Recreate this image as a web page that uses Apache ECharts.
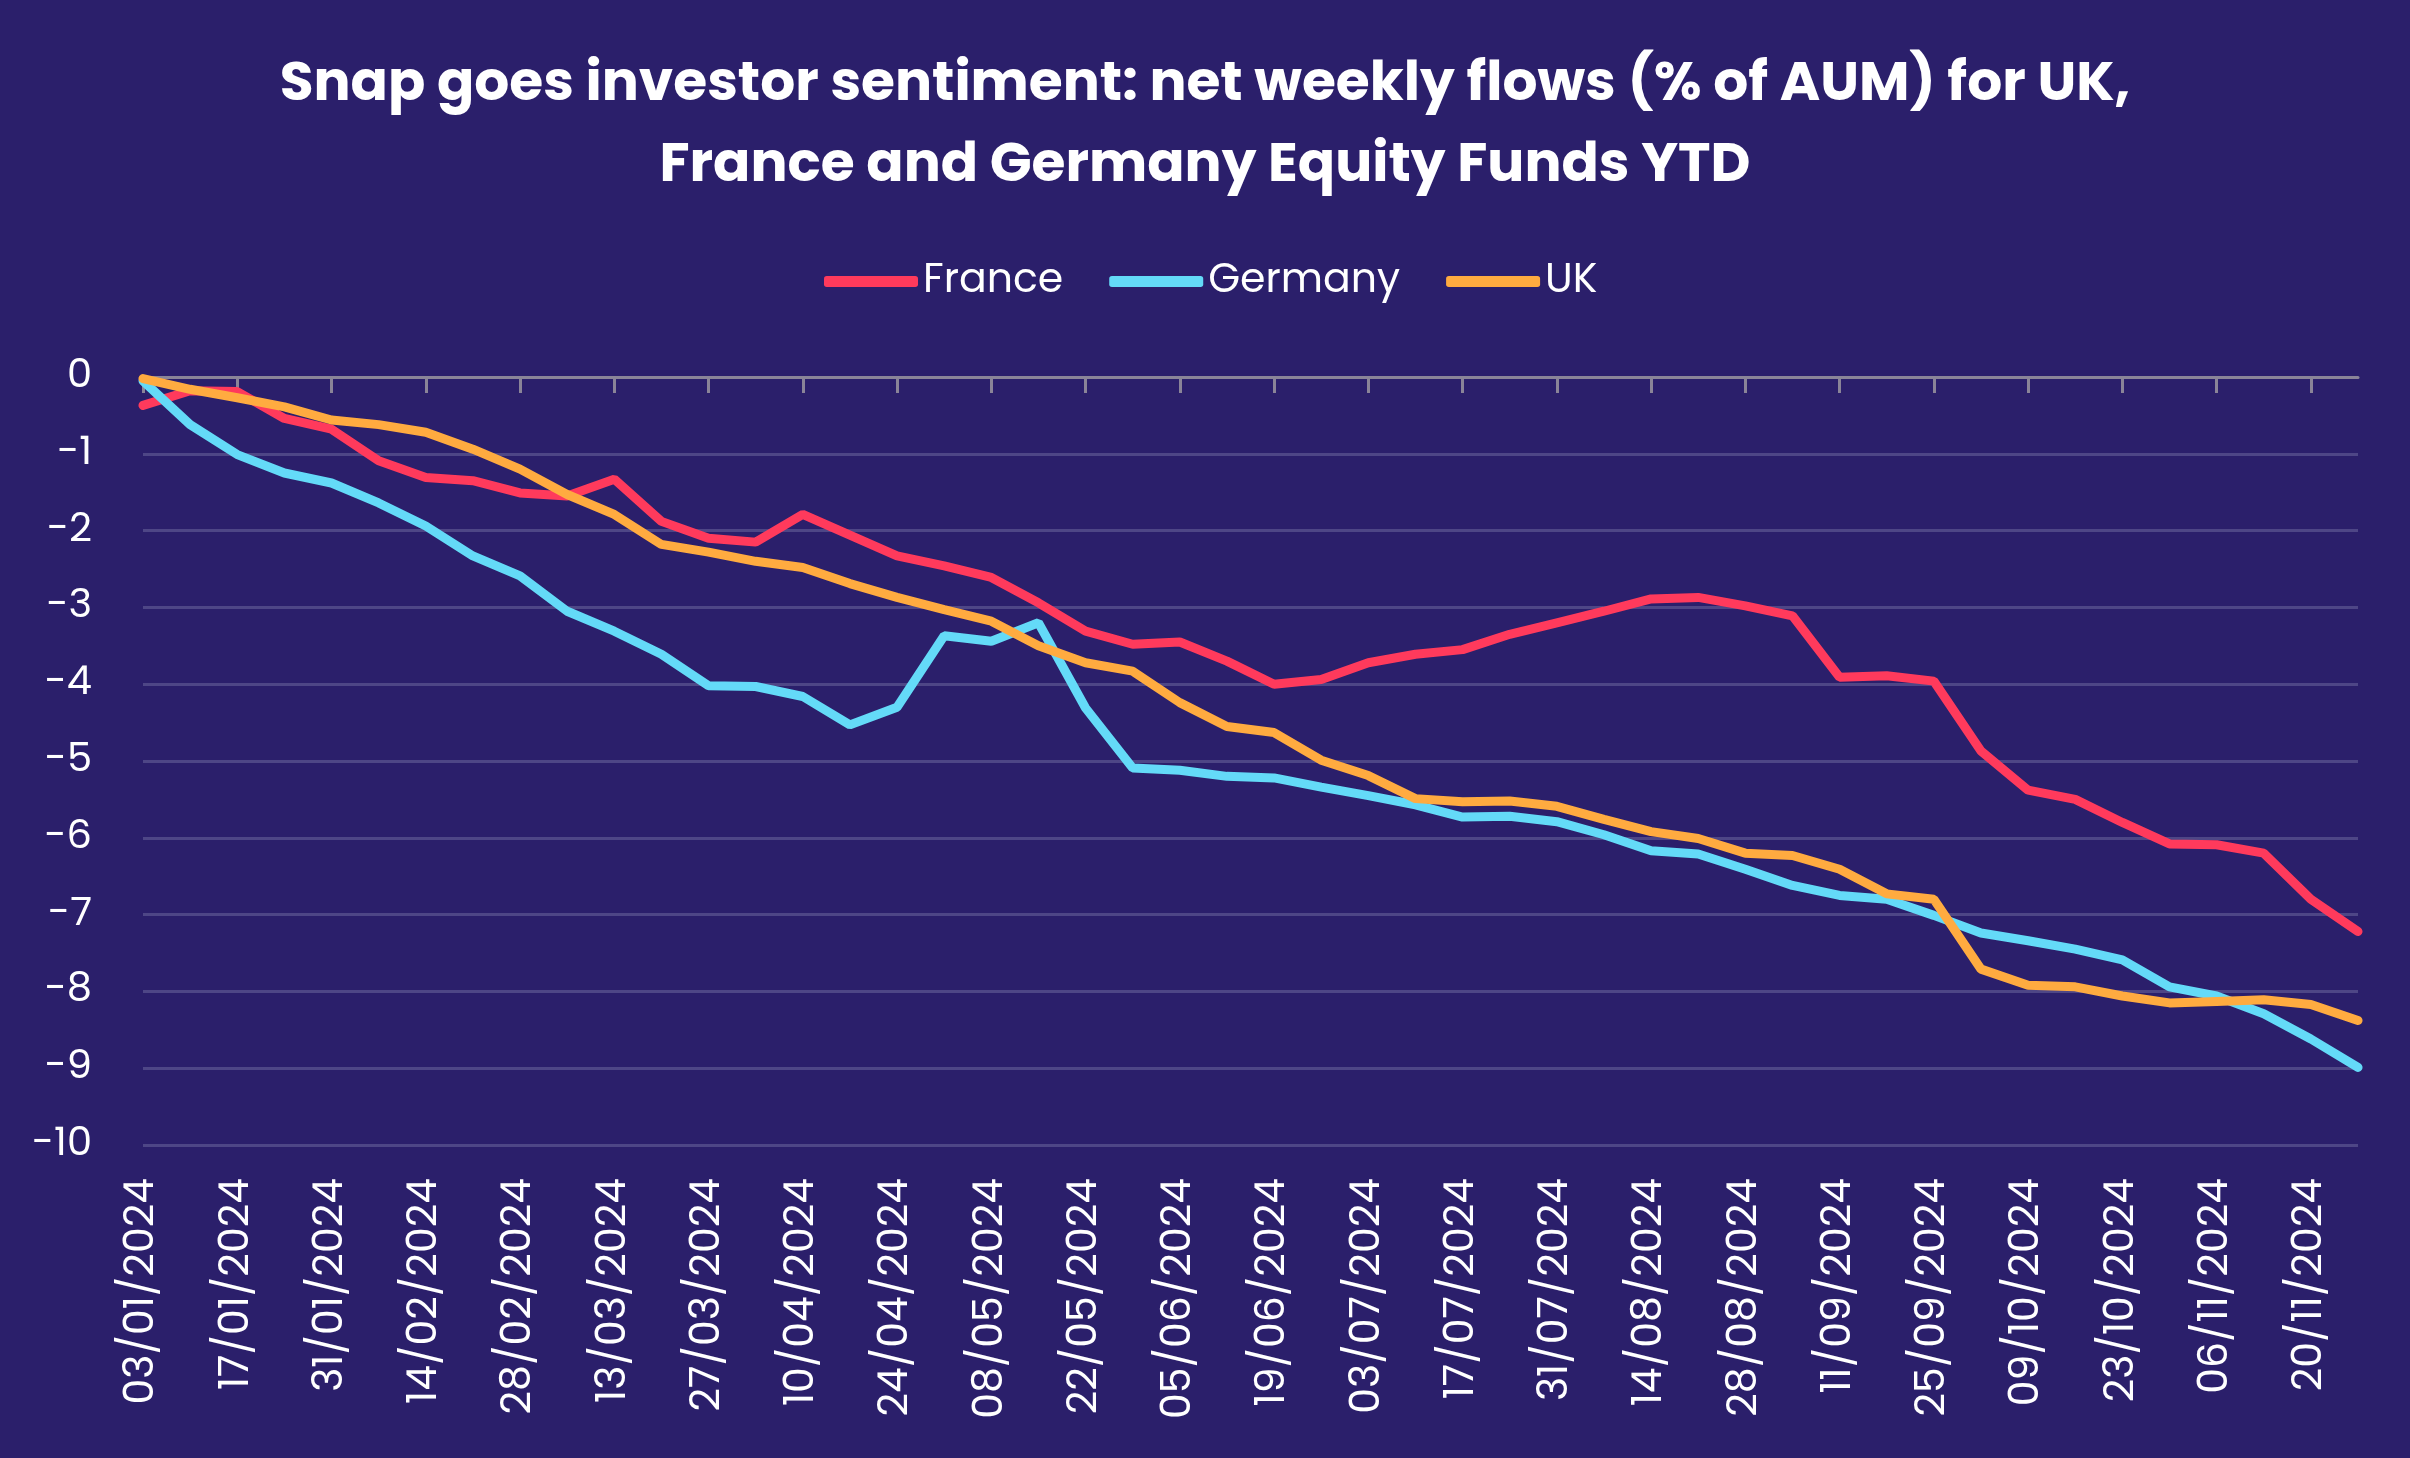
<!DOCTYPE html>
<html>
<head>
<meta charset="utf-8">
<script src="https://cdn.jsdelivr.net/npm/echarts@6/dist/echarts.min.js"></script>
<style>
html,body{margin:0;padding:0;background:#2B1F6B;}
#chart{width:2410px;height:1458px;}
</style>
</head>
<body>
<div id="chart"></div>
<script>
const dates = ['03/01/2024','10/01/2024','17/01/2024','24/01/2024','31/01/2024','07/02/2024','14/02/2024','21/02/2024','28/02/2024','06/03/2024','13/03/2024','20/03/2024','27/03/2024','03/04/2024','10/04/2024','17/04/2024','24/04/2024','01/05/2024','08/05/2024','15/05/2024','22/05/2024','29/05/2024','05/06/2024','12/06/2024','19/06/2024','26/06/2024','03/07/2024','10/07/2024','17/07/2024','24/07/2024','31/07/2024','07/08/2024','14/08/2024','21/08/2024','28/08/2024','04/09/2024','11/09/2024','18/09/2024','25/09/2024','02/10/2024','09/10/2024','16/10/2024','23/10/2024','30/10/2024','06/11/2024','13/11/2024','20/11/2024','27/11/2024'];

const france = [-0.37,-0.18,-0.19,-0.54,-0.68,-1.09,-1.31,-1.35,-1.51,-1.55,-1.33,-1.88,-2.10,-2.15,-1.79,-2.06,-2.33,-2.46,-2.61,-2.94,-3.31,-3.48,-3.45,-3.70,-4.00,-3.94,-3.72,-3.61,-3.55,-3.35,-3.20,-3.05,-2.89,-2.87,-2.98,-3.11,-3.91,-3.89,-3.96,-4.87,-5.38,-5.50,-5.80,-6.08,-6.09,-6.20,-6.80,-7.22];

const germany = [-0.05,-0.62,-1.01,-1.25,-1.38,-1.64,-1.94,-2.33,-2.59,-3.05,-3.31,-3.61,-4.02,-4.03,-4.16,-4.53,-4.30,-3.37,-3.44,-3.20,-4.31,-5.09,-5.12,-5.20,-5.22,-5.34,-5.45,-5.57,-5.73,-5.72,-5.79,-5.96,-6.17,-6.21,-6.41,-6.62,-6.75,-6.80,-7.01,-7.24,-7.34,-7.45,-7.59,-7.94,-8.06,-8.29,-8.62,-8.99];

const uk = [-0.02,-0.16,-0.27,-0.39,-0.56,-0.62,-0.72,-0.94,-1.20,-1.53,-1.79,-2.18,-2.28,-2.40,-2.48,-2.69,-2.87,-3.03,-3.18,-3.50,-3.72,-3.83,-4.24,-4.55,-4.63,-4.99,-5.19,-5.49,-5.53,-5.52,-5.59,-5.76,-5.92,-6.01,-6.20,-6.23,-6.41,-6.73,-6.80,-7.71,-7.92,-7.94,-8.06,-8.15,-8.13,-8.11,-8.17,-8.38];

const titleLines = ['Snap goes investor sentiment: net weekly flows (% of AUM) for UK,', 'France and Germany Equity Funds YTD'];
const seriesNames = ['France','Germany','UK'];
const seriesColors = ['#FF3A5C','#64DAF8','#FFAB40'];
const seriesData = [france, germany, uk];

const FONT = "Poppins, 'Open Sans', Lato, sans-serif";

const chart = echarts.init(document.getElementById('chart'), null, {renderer:'canvas'});
chart.setOption({
  backgroundColor: '#2B1F6B',
  animation: false,
  title: titleLines.map((t, i) => ({
    text: t,
    left: 'center',
    top: 40 + i * 81,
    textStyle: {
      color: '#FFFFFF',
      fontFamily: FONT,
      fontWeight: 'bold',
      fontSize: 55,
      lineHeight: 83
    }
  })),
  legend: {
    top: 256,
    left: 819,
    itemWidth: 94,
    itemHeight: 11,
    itemGap: 46,
    icon: 'roundRect',
    textStyle: { color: '#FFFFFF', fontFamily: FONT, fontSize: 41 },
    data: seriesNames
  },
  grid: { left: 143, right: 52, top: 377, bottom: 313, containLabel: false },
  xAxis: [
    {
      type: 'category',
      data: dates,
      boundaryGap: false,
      position: 'bottom',
      axisLine: { show: false, onZero: false },
      axisTick: { show: false },
      splitLine: { show: false },
      axisLabel: {
        interval: 1,
        rotate: 90,
        margin: 33,
        color: '#FFFFFF',
        fontFamily: FONT,
        fontSize: 41
      }
    },
    {
      type: 'category',
      data: dates,
      boundaryGap: false,
      position: 'top',
      axisLine: { show: true, onZero: false, lineStyle: { color: '#8A8498', width: 3 } },
      axisTick: { show: true, inside: true, interval: 1, length: 16, lineStyle: { color: '#8A8498', width: 3 } },
      axisLabel: { show: false },
      splitLine: { show: false }
    }
  ],
  yAxis: {
    type: 'value',
    min: -10,
    max: 0,
    interval: 1,
    axisLine: { show: false },
    axisTick: { show: false },
    axisLabel: { color: '#FFFFFF', fontFamily: FONT, fontSize: 40, margin: 51 },
    splitLine: { lineStyle: { color: '#4E4686', width: 3 } }
  },
  series: seriesNames.map((n, k) => ({
    name: n,
    type: 'line',
    data: seriesData[k],
    xAxisIndex: 0,
    symbol: 'none',
    color: seriesColors[k],
    lineStyle: { width: 9, color: seriesColors[k], cap: 'round' },
    itemStyle: { color: seriesColors[k] }
  }))
});
</script>
</body>
</html>
